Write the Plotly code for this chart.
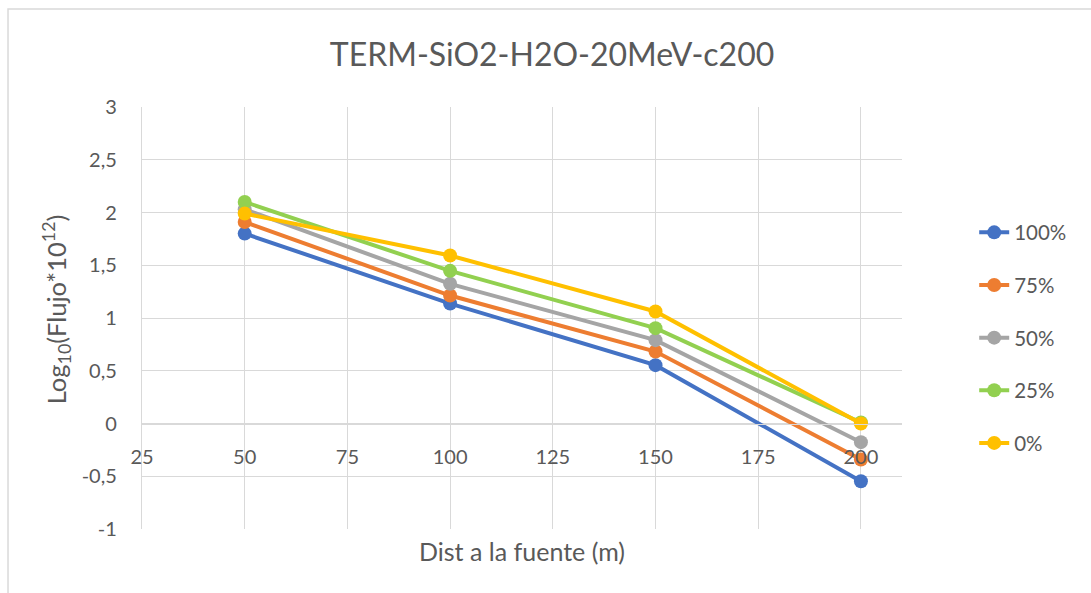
import plotly.graph_objects as go

# Distance from the source (m)
dist = [50, 100, 150, 200]

# log10(flux * 1e12) for each concentration
series_names = ["100%", "75%", "50%", "25%", "0%"]
flux_100 = [1.80, 1.137, 0.553, -0.547]
flux_75 = [1.91, 1.213, 0.682, -0.341]
flux_50 = [2.03, 1.324, 0.790, -0.177]
flux_25 = [2.10, 1.447, 0.904, 0.010]
flux_0 = [1.99, 1.592, 1.062, 0.000]

x_ticks = [25, 50, 75, 100, 125, 150, 175, 200]
y_ticks = [-1, -0.5, 0, 0.5, 1, 1.5, 2, 2.5, 3]
y_tick_text = ["-1", "-0,5", "0", "0,5", "1", "1,5", "2", "2,5", "3"]

colors = ["#4472C4", "#ED7D31", "#A5A5A5", "#92D050", "#FFC000"]
all_series = [flux_100, flux_75, flux_50, flux_25, flux_0]

GRID = "#D9D9D9"
TEXT = "#595959"
FONT = "Lato"

fig = go.Figure()
for name, vals, col in zip(series_names, all_series, colors):
    fig.add_trace(go.Scatter(
        x=dist, y=vals, name=name, legendgroup=name,
        mode="lines+markers",
        line=dict(color=col, width=4),
        marker=dict(color=col, size=14),
    ))

fig.update_layout(
    width=1091, height=593,
    margin=dict(l=142, r=189, t=107, b=64),
    paper_bgcolor="white", plot_bgcolor="white",
    separators=",.",
    font=dict(family=FONT, color=TEXT, size=20),
    title=dict(
        text="TERM-SiO2-H2O-20MeV-c200",
        x=0.506, xref="container", xanchor="center",
        y=0.907, yref="container", yanchor="middle",
        font=dict(family=FONT, size=32, color=TEXT),
    ),
    xaxis=dict(
        range=[25, 210], tickvals=x_ticks,
        anchor="free", position=0.25,
        showgrid=True, gridcolor=GRID, gridwidth=1.3,
        showline=True, linecolor=GRID, linewidth=1.3,
        zeroline=False, ticks="", ticklabelstandoff=15,
        tickfont=dict(size=20),
        layer="above traces",
    ),
    yaxis=dict(
        range=[-1, 3], tickvals=y_ticks, ticktext=y_tick_text,
        showgrid=True, gridcolor=GRID, gridwidth=1.3,
        showline=True, linecolor=GRID, linewidth=1.3,
        zeroline=False, ticks="", ticklabelstandoff=20,
        tickfont=dict(size=20),
    ),
    legend=dict(
        x=1.095, xanchor="left", y=0.75, yanchor="top",
        traceorder="grouped", tracegroupgap=23,
        font=dict(family=FONT, size=20.5, color=TEXT),
        bgcolor="rgba(0,0,0,0)",
    ),
    annotations=[
        dict(text="Dist a la fuente (m)", xref="paper", yref="paper",
             x=0.5, y=-0.052, xanchor="center", yanchor="middle",
             showarrow=False, font=dict(family=FONT, size=25, color=TEXT)),
        dict(text="Log<sub>10</sub>(Flujo*10<sup>12</sup>)", xref="paper", yref="paper",
             x=-0.1135, y=0.52, xanchor="center", yanchor="middle", textangle=-90,
             showarrow=False, font=dict(family=FONT, size=25.5, color=TEXT)),
    ],
    shapes=[
        dict(type="rect", xref="paper", yref="paper",
             x0=-0.1763, x1=1.6, y0=-0.6, y1=1.232,
             line=dict(color=GRID, width=1.5), fillcolor="rgba(0,0,0,0)",
             layer="below"),
    ],
)

fig.write_html("out.html")
